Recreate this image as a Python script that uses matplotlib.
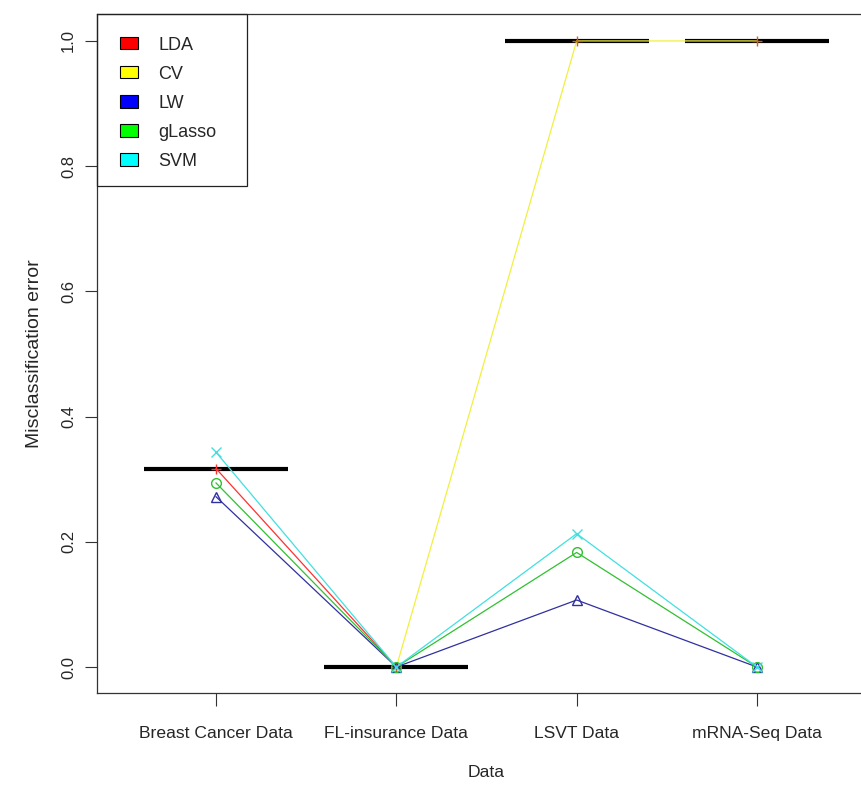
import numpy as np
import matplotlib
matplotlib.use("Agg")
import matplotlib.pyplot as plt
from matplotlib.patches import Patch, Rectangle

plt.rcParams['font.family'] = ['Liberation Sans', 'DejaVu Sans']

datasets = ["Breast Cancer Data", "FL-insurance Data", "LSVT Data", "mRNA-Seq Data"]
methods = ["LDA", "CV", "LW", "gLasso", "SVM"]
colors = ["#ff0000", "#ffff00", "#0000ff", "#00ff00", "#00ffff"]
line_colors = ["#ff3030", "#f0f040", "#3030a0", "#30c030", "#40e0e0"]
markers = ["+", "+", "^", "o", "x"]

lda = [0.317, 0.0, np.nan, np.nan]
cv = [np.nan, 0.0, 1.0, 1.0]
lw = [0.272, 0.0, 0.107, 0.0]
glasso = [0.294, 0.0, 0.183, 0.0]
svm = [0.343, 0.0, 0.213, 0.0]
best = [0.317, 0.0, 1.0, 1.0]

values = [lda, cv, lw, glasso, svm]
x = np.arange(1, len(datasets) + 1)

fig = plt.figure(figsize=(8.62, 7.94), dpi=100)
ax = fig.add_axes([97 / 862, 101 / 794, 779 / 862, 679 / 794])

# best error per data set, thick black bars
for xi, b in zip(x, best):
    ax.plot([xi - 0.4, xi + 0.4], [b, b], color="black", lw=3, solid_capstyle="butt", zorder=2)

for vals, lc, mk, name in zip(values, line_colors, markers, methods):
    mc = lc
    if name == "CV":
        mc = "#d06020"
    ax.plot(x, vals, color=lc, lw=0.9, zorder=3)
    ax.plot(x, vals, linestyle="none", marker=mk, markersize=7,
            markerfacecolor="none", markeredgecolor=mc, markeredgewidth=1.0, zorder=4)

txt = "#262626"
ax.set_xlim(0.34, 4.66)
ax.set_ylim(-0.0415, 1.043)
ax.set_xticks(x)
ax.set_xticklabels(datasets, fontsize=12.6, color=txt)
ax.set_yticks([0.0, 0.2, 0.4, 0.6, 0.8, 1.0])
ax.set_yticklabels(["0.0", "0.2", "0.4", "0.6", "0.8", "1.0"], rotation=90,
                   va="center", fontsize=12, color=txt)
ax.tick_params(axis="both", length=9, width=0.8, color="#333333", pad=6)
ax.tick_params(axis="x", pad=15)
for sp in ax.spines.values():
    sp.set_color("#333333")
    sp.set_linewidth(0.9)

ax.set_xlabel("Data", fontsize=12.6, color=txt, labelpad=17)
ax.set_ylabel("Misclassification error", fontsize=14, color=txt, labelpad=13)

handles = [Patch(facecolor=c, edgecolor="black", linewidth=0.8) for c in colors]
leg = ax.legend(handles, methods, loc="upper left", bbox_to_anchor=(0.0, 1.0),
                borderaxespad=0, fontsize=13, frameon=False,
                handlelength=1.0, handleheight=0.67, handletextpad=1.15,
                borderpad=1.25, labelspacing=0.67)
for t in leg.get_texts():
    t.set_color(txt)
# legend box drawn in figure pixels
fig.patches.append(Rectangle((97 / 862, (794 - 186) / 794), 150 / 862, 172 / 794,
                             transform=fig.transFigure, fill=False,
                             edgecolor="#222222", linewidth=0.9, zorder=10))

fig.savefig("out.png", dpi=100)
